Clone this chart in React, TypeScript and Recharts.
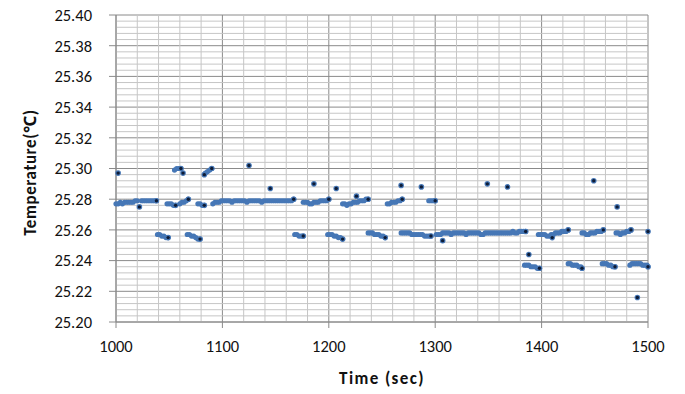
import React from 'react';
import { ScatterChart, Scatter, XAxis, YAxis, CartesianGrid, ReferenceLine } from 'recharts';

// ---- tick labels / grid values ----
const xTicks = [1000, 1100, 1200, 1300, 1400, 1500];
const yTicks = [25.2, 25.22, 25.24, 25.26, 25.28, 25.3, 25.32, 25.34, 25.36, 25.38, 25.4];
const xMinor = [1020, 1040, 1060, 1080, 1120, 1140, 1160, 1180, 1220, 1240, 1260, 1280, 1320, 1340, 1360, 1380, 1420, 1440, 1460, 1480];
const yMinor = [
  25.204, 25.208, 25.212, 25.216, 25.224, 25.228, 25.232, 25.236, 25.244, 25.248, 25.252, 25.256,
  25.264, 25.268, 25.272, 25.276, 25.284, 25.288, 25.292, 25.296, 25.304, 25.308, 25.312, 25.316,
  25.324, 25.328, 25.332, 25.336, 25.344, 25.348, 25.352, 25.356, 25.364, 25.368, 25.372, 25.376,
  25.384, 25.388, 25.392, 25.396,
];

// ---- measured series: [time (sec), temperature (°C)] ----
const seg01 = [[1000, 25.277], [1002, 25.277], [1004, 25.278], [1006, 25.277], [1008, 25.278], [1010, 25.278], [1012, 25.278], [1014, 25.278], [1016, 25.278], [1018, 25.279], [1020, 25.279], [1024, 25.279], [1026, 25.279], [1028, 25.279], [1030, 25.279], [1032, 25.279], [1034, 25.279], [1036, 25.279], [1038, 25.279]];
const seg02 = [[1039, 25.257], [1041, 25.257], [1043, 25.256], [1045, 25.256], [1047, 25.255], [1049, 25.255]];
const seg03 = [[1048, 25.277], [1050, 25.277], [1052, 25.277], [1054, 25.276], [1056, 25.276]];
const seg04 = [[1055, 25.299], [1057, 25.3], [1059, 25.3], [1061, 25.3]];
const seg05 = [[1060, 25.277], [1062, 25.278], [1064, 25.278], [1066, 25.279], [1068, 25.28]];
const seg06 = [[1067, 25.257], [1069, 25.257], [1071, 25.256], [1073, 25.256], [1075, 25.255], [1077, 25.254], [1079, 25.254]];
const seg07 = [[1077, 25.277], [1079, 25.277], [1081, 25.276], [1083, 25.276]];
const seg08 = [[1084, 25.297], [1086, 25.298], [1088, 25.299], [1090, 25.3]];
const seg09 = [[1091, 25.277], [1093, 25.278], [1095, 25.278], [1097, 25.278], [1099, 25.279], [1101, 25.279], [1103, 25.279], [1105, 25.279], [1107, 25.279], [1109, 25.278], [1111, 25.279], [1113, 25.279], [1115, 25.279], [1117, 25.279], [1119, 25.279], [1121, 25.279], [1123, 25.278], [1125, 25.279], [1127, 25.279], [1129, 25.279], [1131, 25.279], [1133, 25.279], [1135, 25.279], [1137, 25.278], [1139, 25.279], [1141, 25.279], [1143, 25.279], [1145, 25.279], [1147, 25.279], [1149, 25.279], [1151, 25.279], [1153, 25.279], [1155, 25.279], [1157, 25.279], [1159, 25.279], [1161, 25.279], [1163, 25.279], [1165, 25.279], [1167, 25.28]];
const seg10 = [[1168, 25.257], [1170, 25.257], [1172, 25.256], [1174, 25.256], [1176, 25.256]];
const seg11 = [[1176, 25.278], [1178, 25.278], [1180, 25.278], [1182, 25.277], [1184, 25.277], [1186, 25.278], [1188, 25.278], [1190, 25.278], [1192, 25.279], [1194, 25.279], [1196, 25.279], [1198, 25.279], [1200, 25.28]];
const seg12 = [[1199, 25.257], [1201, 25.257], [1203, 25.257], [1205, 25.256], [1207, 25.256], [1209, 25.255], [1211, 25.255], [1213, 25.254]];
const seg13 = [[1213, 25.277], [1215, 25.277], [1217, 25.276], [1219, 25.277], [1221, 25.277], [1223, 25.278], [1225, 25.278], [1227, 25.278], [1229, 25.279], [1231, 25.279], [1233, 25.279], [1235, 25.28], [1237, 25.28]];
const seg14 = [[1237, 25.258], [1239, 25.258], [1241, 25.258], [1243, 25.257], [1245, 25.257], [1247, 25.257], [1249, 25.256], [1251, 25.256], [1253, 25.255]];
const seg15 = [[1255, 25.277], [1257, 25.277], [1259, 25.278], [1261, 25.278], [1263, 25.278], [1265, 25.279], [1267, 25.279], [1269, 25.28]];
const seg16 = [[1268, 25.258], [1270, 25.258], [1272, 25.258], [1274, 25.258], [1276, 25.258], [1278, 25.257], [1280, 25.257], [1282, 25.257], [1284, 25.257], [1286, 25.257], [1288, 25.257], [1290, 25.256], [1292, 25.256], [1294, 25.256], [1296, 25.256]];
const seg17 = [[1294, 25.279], [1296, 25.279], [1298, 25.279], [1300, 25.279]];
const seg18 = [[1301, 25.257], [1303, 25.257], [1305, 25.257], [1307, 25.258], [1309, 25.258], [1311, 25.258], [1313, 25.258], [1315, 25.257], [1317, 25.258], [1319, 25.258], [1321, 25.258], [1323, 25.258], [1325, 25.258], [1327, 25.258], [1329, 25.257], [1331, 25.258], [1333, 25.258], [1335, 25.258], [1337, 25.258], [1339, 25.258], [1341, 25.258], [1343, 25.257], [1345, 25.257], [1347, 25.258], [1349, 25.258], [1351, 25.258], [1353, 25.258], [1355, 25.258], [1357, 25.258], [1359, 25.258], [1361, 25.258], [1363, 25.258], [1365, 25.258], [1367, 25.258], [1369, 25.258], [1371, 25.258], [1373, 25.259], [1375, 25.258], [1377, 25.258], [1379, 25.259], [1381, 25.259], [1383, 25.259], [1385, 25.259]];
const seg19 = [[1384, 25.237], [1386, 25.237], [1388, 25.237], [1390, 25.236], [1392, 25.236], [1394, 25.236], [1396, 25.235], [1398, 25.235]];
const seg20 = [[1397, 25.257], [1399, 25.257], [1401, 25.257], [1403, 25.257], [1405, 25.256], [1407, 25.256], [1409, 25.257], [1411, 25.257], [1413, 25.258], [1415, 25.258], [1417, 25.258], [1419, 25.259], [1421, 25.259], [1423, 25.259], [1425, 25.26]];
const seg21 = [[1425, 25.238], [1427, 25.238], [1429, 25.237], [1431, 25.237], [1433, 25.237], [1435, 25.236], [1437, 25.236], [1438, 25.235]];
const seg22 = [[1438, 25.258], [1440, 25.258], [1442, 25.257], [1444, 25.257], [1446, 25.258], [1448, 25.258], [1450, 25.258], [1452, 25.259], [1454, 25.259], [1456, 25.259], [1458, 25.26]];
const seg23 = [[1457, 25.238], [1459, 25.238], [1461, 25.238], [1463, 25.237], [1465, 25.237], [1467, 25.236], [1469, 25.236]];
const seg24 = [[1470, 25.258], [1472, 25.258], [1474, 25.257], [1476, 25.258], [1478, 25.258], [1480, 25.259], [1482, 25.259], [1484, 25.26]];
const seg25 = [[1483, 25.237], [1485, 25.238], [1487, 25.238], [1489, 25.238], [1491, 25.238], [1493, 25.238], [1495, 25.237], [1497, 25.237], [1499, 25.237], [1500, 25.236]];
const outliers = [[1002, 25.297], [1022, 25.275], [1063, 25.297], [1083, 25.296], [1125, 25.302], [1145, 25.287], [1186, 25.29], [1207, 25.287], [1226, 25.282], [1268, 25.289], [1287, 25.288], [1307, 25.253], [1349, 25.29], [1368, 25.288], [1388, 25.244], [1410, 25.255], [1449, 25.292], [1471, 25.275], [1490, 25.216], [1500, 25.259]];

const segments = [seg01, seg02, seg03, seg04, seg05, seg06, seg07, seg08, seg09, seg10, seg11, seg12, seg13, seg14, seg15, seg16, seg17, seg18, seg19, seg20, seg21, seg22, seg23, seg24, seg25];
const runData = segments.flat().map(([t, v]) => ({ t, v }));
// the last sample of every run and the isolated samples show a dark marker core
const coreData = [...segments.map((s) => s[s.length - 1]), ...outliers].map(([t, v]) => ({ t, v }));

const FONT = 'Carlito, Lato, "Noto Sans", sans-serif';
const MAJOR = '#8a8a8a';
const MINOR = '#c6c6c6';
const BLUE = '#4677b6';

const RunMarker = (p: any) => <circle cx={p.cx} cy={p.cy} r={2.6} fill={BLUE} />;
const CoreMarker = (p: any) => (
  <g>
    <circle cx={p.cx} cy={p.cy} r={2.8} fill={BLUE} />
    <circle cx={p.cx} cy={p.cy} r={1.7} fill="#0e1c36" />
  </g>
);

export default function App() {
  return (
    <div style={{ position: 'absolute', left: 0, top: 0, width: 685, height: 394, background: '#fff' }}>
      <ScatterChart width={685} height={394} margin={{ top: 15, right: 37, bottom: 32, left: 0 }}>
        {xMinor.map((x) => (
          <ReferenceLine key={'x' + x} x={x} stroke={MINOR} strokeWidth={1} />
        ))}
        {yMinor.map((y) => (
          <ReferenceLine key={'y' + y} y={y} stroke={MINOR} strokeWidth={1} />
        ))}
        <CartesianGrid stroke={MAJOR} strokeWidth={1} />
        <XAxis
          dataKey="t"
          type="number"
          domain={[1000, 1500]}
          ticks={xTicks}
          height={40}
          tickSize={6}
          tickMargin={12}
          stroke={MAJOR}
          tick={{ fill: '#111', fontSize: 16.5, fontFamily: FONT }}
          label={(props: any) => {
            const vb = props.viewBox || {};
            return (
              <text x={vb.x + vb.width / 2} y={378} textAnchor="middle" dominantBaseline="central" fontFamily={FONT} fontWeight="bold" fontSize={17} letterSpacing={1.4} fill="#111">
                Time (sec)
              </text>
            );
          }}
        />
        <YAxis
          dataKey="v"
          type="number"
          domain={[25.2, 25.4]}
          ticks={yTicks}
          width={116}
          tickSize={7}
          tickMargin={17}
          stroke={MAJOR}
          tickFormatter={(v: number) => v.toFixed(2)}
          tick={{ fill: '#111', fontSize: 16.5, fontFamily: FONT }}
          label={(props: any) => {
            const vb = props.viewBox || {};
            const cy = vb.y + vb.height / 2 + 4;
            return (
              <text x={30} y={cy} transform={`rotate(-90, 30, ${cy})`} textAnchor="middle" dominantBaseline="central" fontFamily={FONT} fontWeight="bold" fontSize={17} letterSpacing={0.6} fill="#111">
                Temperature(℃)
              </text>
            );
          }}
        />
        <Scatter data={runData} shape={RunMarker} isAnimationActive={false} />
        <Scatter data={coreData} shape={CoreMarker} isAnimationActive={false} />
      </ScatterChart>
    </div>
  );
}
